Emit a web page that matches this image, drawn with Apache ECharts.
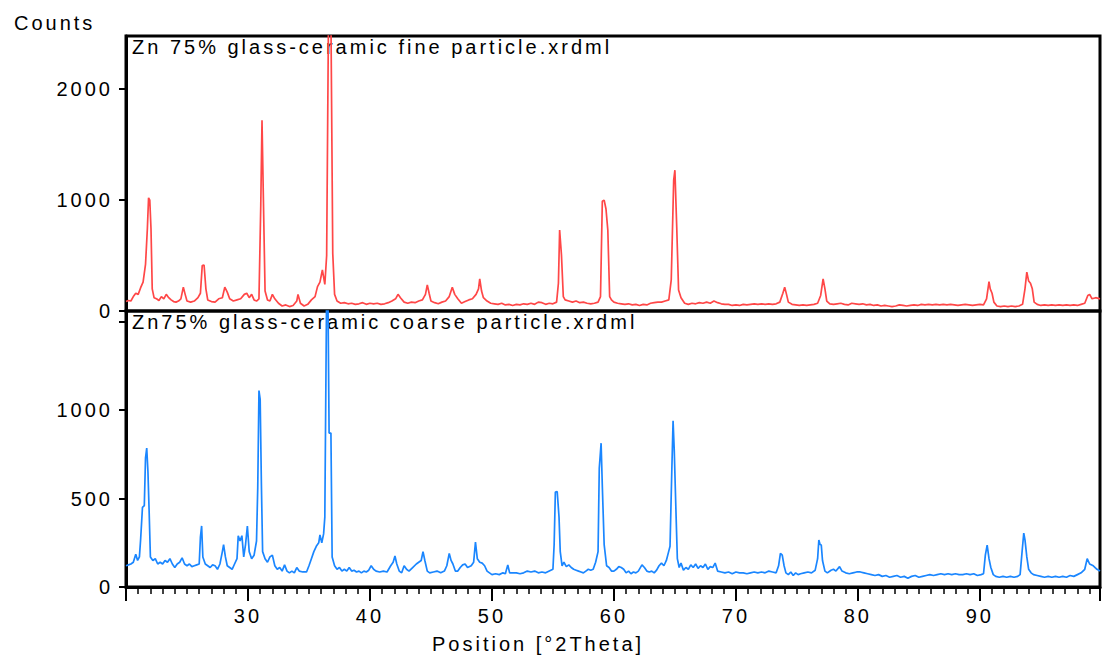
<!DOCTYPE html>
<html>
<head>
<meta charset="utf-8">
<script src="https://cdn.jsdelivr.net/npm/echarts@6/dist/echarts.min.js"></script>
<style>
  html, body { margin: 0; padding: 0; background: #fff; }
  #chart { width: 1105px; height: 661px; }
  #chart text { letter-spacing: 3px; }
</style>
</head>
<body>
<div id="chart"></div>
<script>
const panelTitles = ['Zn 75% glass-ceramic fine particle.xrdml', 'Zn75% glass-ceramic coarse particle.xrdml'];
const yTitle = 'Counts';
const xTitle = 'Position [°2Theta]';
const xTickStep = 10;          // labelled ticks 30 … 90, unlabelled minor ticks every 1°
const yTickStepTop = 1000;     // 0, 1000, 2000
const yTickStepBottom = 500;   // 0, 500, 1000 (+ unlabelled 1500)
const yHiddenLabelsBottom = [1500];

// Zn 75% fine particle (red)
const fine = [
[20.0,85],[20.2,95],[20.4,90],[20.6,130],[20.8,160],[21.0,150],[21.2,210],[21.4,260],[21.6,420],[21.75,740],[21.85,1020],[21.95,1000],[22.05,740],[22.15,200],[22.3,120],[22.5,110],[22.7,95],[22.9,130],[23.1,110],[23.3,150],[23.5,120],[23.7,100],[23.9,85],[24.1,80],[24.3,90],[24.5,110],[24.7,215],[24.85,150],[25.0,90],[25.3,80],[25.6,90],[25.9,120],[26.1,160],[26.25,410],[26.4,415],[26.55,200],[26.7,100],[27.0,85],[27.3,80],[27.6,110],[27.9,120],[28.1,215],[28.3,170],[28.5,110],[28.8,90],[29.1,100],[29.4,110],[29.7,150],[29.9,160],[30.1,120],[30.3,150],[30.5,100],[30.7,90],[30.9,110],[31.05,960],[31.15,1720],[31.25,1090],[31.4,180],[31.6,100],[31.8,90],[32.0,150],[32.2,110],[32.5,70],[32.8,45],[33.1,55],[33.4,40],[33.7,50],[34.0,90],[34.1,150],[34.3,70],[34.6,45],[34.9,60],[35.2,100],[35.5,130],[35.7,220],[35.9,260],[36.1,370],[36.3,240],[36.45,500],[36.6,2650],[36.8,2650],[36.95,520],[37.1,150],[37.3,90],[37.6,70],[37.9,75],[38.2,65],[38.5,70],[38.8,60],[39.1,65],[39.4,75],[39.7,60],[40.0,70],[40.3,65],[40.6,70],[40.9,60],[41.2,65],[41.5,75],[41.8,90],[42.1,110],[42.3,150],[42.5,120],[42.8,80],[43.1,70],[43.4,80],[43.7,75],[44.0,90],[44.3,100],[44.55,150],[44.7,235],[44.85,160],[45.0,90],[45.3,75],[45.6,65],[45.9,80],[46.2,90],[46.5,130],[46.75,215],[46.95,150],[47.2,110],[47.5,70],[47.8,85],[48.1,100],[48.4,110],[48.7,150],[48.9,200],[49.0,290],[49.15,180],[49.3,120],[49.6,90],[49.9,70],[50.2,65],[50.5,60],[50.8,70],[51.1,55],[51.4,60],[51.7,50],[52.0,60],[52.3,55],[52.6,65],[52.9,60],[53.2,70],[53.5,60],[53.8,80],[54.1,75],[54.4,60],[54.7,70],[55.0,65],[55.3,80],[55.45,250],[55.55,730],[55.7,505],[55.85,130],[56.0,100],[56.3,90],[56.6,80],[56.9,90],[57.2,75],[57.5,80],[57.8,70],[58.1,65],[58.4,70],[58.7,80],[58.9,130],[59.05,990],[59.2,1000],[59.35,920],[59.5,730],[59.65,130],[59.8,100],[60.0,80],[60.3,70],[60.6,65],[60.9,60],[61.2,65],[61.5,55],[61.8,60],[62.1,50],[62.4,60],[62.7,55],[63.0,70],[63.3,75],[63.6,80],[63.9,80],[64.2,90],[64.5,100],[64.7,280],[64.9,1180],[65.0,1270],[65.15,755],[65.3,190],[65.5,120],[65.8,70],[66.1,60],[66.4,70],[66.7,65],[67.0,75],[67.3,70],[67.6,80],[67.9,70],[68.2,90],[68.5,75],[68.8,65],[69.1,60],[69.4,60],[69.7,50],[70.0,55],[70.3,50],[70.6,60],[70.9,55],[71.2,60],[71.5,65],[71.8,60],[72.1,65],[72.4,60],[72.7,65],[73.0,60],[73.3,65],[73.6,80],[73.85,160],[74.0,215],[74.15,150],[74.3,80],[74.6,60],[74.9,55],[75.2,50],[75.5,55],[75.8,50],[76.1,55],[76.4,60],[76.7,70],[76.95,140],[77.15,290],[77.3,200],[77.45,90],[77.7,65],[78.0,60],[78.3,65],[78.6,70],[78.9,60],[79.2,55],[79.5,70],[79.8,65],[80.1,60],[80.4,65],[80.7,55],[81.0,60],[81.3,50],[81.6,55],[81.9,45],[82.2,50],[82.5,45],[82.8,40],[83.1,45],[83.4,55],[83.7,50],[84.0,45],[84.3,50],[84.6,55],[84.9,50],[85.2,60],[85.5,55],[85.8,60],[86.1,55],[86.4,60],[86.7,55],[87.0,60],[87.3,55],[87.6,60],[87.9,55],[88.2,50],[88.5,55],[88.8,60],[89.1,55],[89.4,50],[89.7,55],[90.0,60],[90.3,55],[90.55,110],[90.75,265],[90.85,200],[91.0,160],[91.15,80],[91.4,45],[91.7,40],[92.0,45],[92.3,40],[92.6,45],[92.9,40],[93.2,45],[93.5,60],[93.7,200],[93.85,350],[94.0,270],[94.15,250],[94.3,200],[94.45,80],[94.7,60],[95.0,50],[95.3,55],[95.6,50],[95.9,55],[96.2,50],[96.5,55],[96.8,50],[97.1,55],[97.4,50],[97.7,55],[98.0,50],[98.3,60],[98.6,70],[98.85,140],[99.0,150],[99.2,110],[99.5,120],[99.85,110]
];

// Zn75% coarse particle (blue)
const coarse = [
[20.0,120],[20.2,125],[20.4,130],[20.6,140],[20.8,185],[20.95,150],[21.1,170],[21.2,270],[21.35,450],[21.5,460],[21.6,730],[21.7,785],[21.8,650],[21.9,420],[22.0,170],[22.2,150],[22.4,160],[22.6,130],[22.8,140],[23.0,130],[23.2,150],[23.4,140],[23.6,160],[23.8,130],[24.0,110],[24.2,130],[24.4,140],[24.6,165],[24.8,130],[25.0,120],[25.2,130],[25.4,115],[25.6,120],[25.8,125],[26.0,130],[26.1,280],[26.2,345],[26.3,170],[26.5,130],[26.7,120],[26.9,110],[27.1,125],[27.3,120],[27.5,100],[27.7,130],[27.9,200],[28.0,240],[28.15,170],[28.3,120],[28.5,110],[28.7,100],[28.9,130],[29.1,160],[29.2,290],[29.35,260],[29.5,290],[29.65,170],[29.8,240],[29.95,345],[30.1,200],[30.3,160],[30.5,180],[30.7,260],[30.8,560],[30.9,1110],[31.0,1060],[31.1,580],[31.2,200],[31.4,160],[31.6,140],[31.8,170],[32.0,180],[32.2,120],[32.4,100],[32.6,110],[32.8,90],[33.0,125],[33.2,90],[33.4,80],[33.6,90],[33.8,80],[34.0,110],[34.2,90],[34.5,85],[34.8,85],[35.0,120],[35.2,160],[35.4,200],[35.6,230],[35.8,250],[35.9,294],[36.05,250],[36.2,300],[36.3,395],[36.45,1700],[36.55,1700],[36.65,870],[36.8,870],[36.9,170],[37.1,120],[37.3,100],[37.5,110],[37.7,90],[37.9,100],[38.1,90],[38.3,110],[38.5,90],[38.7,95],[38.9,85],[39.1,90],[39.3,80],[39.5,90],[39.7,85],[39.9,95],[40.1,120],[40.3,100],[40.5,90],[40.8,85],[41.1,90],[41.4,85],[41.7,120],[41.9,140],[42.05,175],[42.2,130],[42.4,90],[42.6,80],[42.8,120],[43.0,100],[43.2,90],[43.5,110],[43.8,130],[44.0,140],[44.2,150],[44.35,200],[44.5,150],[44.7,90],[44.9,80],[45.2,85],[45.5,90],[45.8,80],[46.1,90],[46.3,120],[46.5,190],[46.65,150],[46.8,130],[47.0,90],[47.2,90],[47.4,110],[47.6,125],[47.8,130],[48.0,110],[48.3,120],[48.5,140],[48.65,254],[48.8,160],[49.0,140],[49.2,135],[49.4,120],[49.6,90],[49.8,80],[50.0,70],[50.3,75],[50.6,70],[50.9,80],[51.1,75],[51.3,125],[51.45,80],[51.7,80],[52.0,80],[52.3,75],[52.6,80],[52.9,90],[53.2,85],[53.5,90],[53.8,80],[54.1,85],[54.4,80],[54.7,90],[55.0,100],[55.1,240],[55.2,537],[55.35,540],[55.5,395],[55.6,200],[55.75,120],[55.9,140],[56.1,115],[56.3,125],[56.5,110],[56.7,100],[56.9,95],[57.1,90],[57.3,85],[57.5,80],[57.7,90],[57.9,100],[58.1,95],[58.3,100],[58.5,140],[58.7,200],[58.8,672],[58.95,813],[59.05,570],[59.2,240],[59.4,120],[59.6,110],[59.8,90],[60.0,90],[60.2,100],[60.4,115],[60.6,110],[60.8,100],[61.0,80],[61.2,90],[61.4,75],[61.6,85],[61.8,80],[62.0,90],[62.3,125],[62.5,110],[62.7,90],[62.9,85],[63.1,90],[63.3,80],[63.5,95],[63.7,120],[63.9,135],[64.1,120],[64.3,150],[64.45,190],[64.6,230],[64.75,670],[64.85,940],[64.95,765],[65.1,395],[65.2,160],[65.35,110],[65.5,135],[65.7,95],[65.9,110],[66.1,100],[66.3,125],[66.5,110],[66.7,130],[66.9,105],[67.1,120],[67.3,110],[67.5,130],[67.7,100],[67.9,115],[68.1,110],[68.3,135],[68.5,90],[68.8,85],[69.1,80],[69.4,85],[69.7,75],[70.0,85],[70.3,80],[70.6,80],[70.9,75],[71.2,80],[71.5,85],[71.8,80],[72.1,85],[72.4,80],[72.7,90],[73.0,85],[73.3,80],[73.5,120],[73.65,190],[73.8,180],[73.95,120],[74.1,80],[74.3,70],[74.5,85],[74.7,65],[74.9,80],[75.1,70],[75.3,75],[75.6,80],[75.9,85],[76.2,80],[76.5,95],[76.7,160],[76.8,266],[76.9,240],[77.0,237],[77.1,150],[77.3,90],[77.5,80],[77.8,95],[78.0,100],[78.2,90],[78.5,115],[78.7,90],[79.0,80],[79.3,75],[79.6,80],[79.9,85],[80.2,85],[80.5,80],[80.8,75],[81.1,70],[81.4,65],[81.7,70],[82.0,60],[82.3,65],[82.6,55],[82.9,60],[83.2,65],[83.5,55],[83.8,60],[84.1,50],[84.4,60],[84.7,65],[85.0,55],[85.3,60],[85.6,65],[85.9,70],[86.2,65],[86.5,70],[86.8,75],[87.1,70],[87.4,75],[87.7,70],[88.0,75],[88.3,70],[88.6,70],[88.9,75],[89.2,70],[89.5,75],[89.8,65],[90.1,70],[90.3,75],[90.45,180],[90.6,237],[90.75,160],[90.9,110],[91.1,70],[91.3,60],[91.6,55],[91.9,60],[92.2,55],[92.5,60],[92.8,55],[93.1,60],[93.3,70],[93.45,190],[93.6,305],[93.7,266],[93.85,170],[94.0,100],[94.2,80],[94.4,70],[94.7,65],[95.0,60],[95.3,55],[95.6,60],[95.9,55],[96.2,60],[96.5,55],[96.8,60],[97.1,55],[97.4,65],[97.7,60],[98.0,70],[98.3,80],[98.6,100],[98.8,160],[99.0,130],[99.3,120],[99.6,100],[99.85,90]
];

const FONT = '"Liberation Sans", Arial, sans-serif';
const X_MIN = 20, X_MAX = 99.85;
const labelStyle = { fontSize: 20, color: '#000', fontFamily: FONT, showMinLabel: true, showMaxLabel: false };
const frameLine = { show: true, onZero: false, lineStyle: { color: '#000', width: 3 } };

const chart = echarts.init(document.getElementById('chart'), null, { renderer: 'svg' });
chart.setOption({
  animation: false,
  backgroundColor: '#fff',
  textStyle: { fontFamily: FONT },
  title: {
    text: yTitle, left: 9, top: 8,
    textStyle: { fontFamily: FONT, fontSize: 20, fontWeight: 'normal', color: '#000' }
  },
  graphic: [
    { type: 'text', left: 132, top: 37, style: { text: panelTitles[0], font: '20px ' + FONT, fill: '#000' } },
    { type: 'text', left: 132, top: 312, style: { text: panelTitles[1], font: '20px ' + FONT, fill: '#000' } },
    { type: 'text', left: 432, top: 634, style: { text: xTitle, font: '20px ' + FONT, fill: '#000' } }
  ],
  grid: [
    { left: 126, top: 36, width: 974, height: 275, show: true, borderColor: '#000', borderWidth: 3,
      backgroundColor: 'transparent', containLabel: false, outerBoundsMode: 'none' },
    { left: 126, top: 311, width: 974, height: 276, show: true, borderColor: '#000', borderWidth: 3,
      backgroundColor: 'transparent', containLabel: false, outerBoundsMode: 'none' }
  ],
  xAxis: [
    { type: 'value', gridIndex: 0, min: X_MIN, max: X_MAX, interval: xTickStep,
      axisLine: { show: false }, axisTick: { show: false }, axisLabel: { show: false }, splitLine: { show: false } },
    { type: 'value', gridIndex: 1, min: X_MIN, max: X_MAX, interval: xTickStep,
      axisLine: frameLine,
      axisTick: { show: true, length: 14, lineStyle: { color: '#000', width: 2 } },
      minorTick: { show: true, splitNumber: 10, length: 7, lineStyle: { color: '#000', width: 1.5 } },
      axisLabel: Object.assign({}, labelStyle, { showMinLabel: false, margin: 19, formatter: v => String(v) }),
      splitLine: { show: false }, minorSplitLine: { show: false } }
  ],
  yAxis: [
    { type: 'value', gridIndex: 0, min: 0, max: 2480, interval: yTickStepTop,
      axisLine: frameLine,
      axisTick: { show: true, length: 7, lineStyle: { color: '#000', width: 2 } },
      axisLabel: Object.assign({}, labelStyle, { margin: 13, formatter: v => String(v) }),
      splitLine: { show: false } },
    { type: 'value', gridIndex: 1, min: 0, max: 1560, interval: yTickStepBottom,
      axisLine: frameLine,
      axisTick: { show: true, length: 7, lineStyle: { color: '#000', width: 2 } },
      axisLabel: Object.assign({}, labelStyle, { margin: 13,
        formatter: v => (yHiddenLabelsBottom.indexOf(v) >= 0 ? '' : String(v)) }),
      splitLine: { show: false } }
  ],
  series: [
    { name: panelTitles[0], type: 'line', xAxisIndex: 0, yAxisIndex: 0, data: fine, showSymbol: false, clip: true,
      lineStyle: { color: '#ff4747', width: 1.7 }, z: 1 },
    { name: panelTitles[1], type: 'line', xAxisIndex: 1, yAxisIndex: 1, data: coarse, showSymbol: false, clip: true,
      lineStyle: { color: '#1a86ff', width: 1.7 }, z: 1 }
  ]
});
</script>
</body>
</html>
